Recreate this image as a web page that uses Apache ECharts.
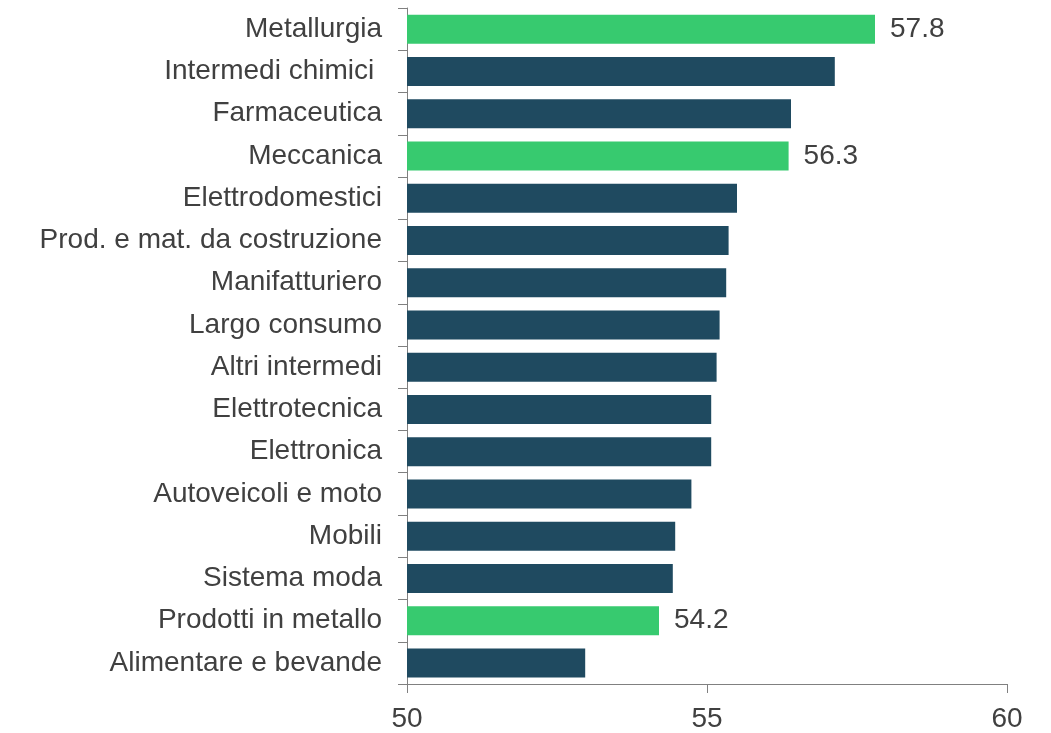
<!DOCTYPE html>
<html>
<head>
<meta charset="utf-8">
<script src="https://cdn.jsdelivr.net/npm/echarts@6/dist/echarts.min.js"></script>
<style>
  html, body { margin: 0; padding: 0; background: #fff; }
  #chart { width: 1051px; height: 733px; }
</style>
</head>
<body>
<div id="chart"></div>
<script>
// settori, dall'alto verso il basso
var categories = [
  'Metallurgia', 'Intermedi chimici ', 'Farmaceutica', 'Meccanica',
  'Elettrodomestici', 'Prod. e mat. da costruzione', 'Manifatturiero',
  'Largo consumo', 'Altri intermedi', 'Elettrotecnica', 'Elettronica',
  'Autoveicoli e moto', 'Mobili', 'Sistema moda', 'Prodotti in metallo',
  'Alimentare e bevande'
];
var values = [
  57.8, 57.13, 56.4, 56.36,
  55.5, 55.36, 55.32,
  55.21, 55.16, 55.07, 55.07,
  54.74, 54.47, 54.43, 54.2,
  52.97
];
// etichette mostrate solo sui settori evidenziati
var valueLabels = [
  '57.8', '', '', '56.3',
  '', '', '',
  '', '', '', '',
  '', '', '', '54.2',
  ''
];
var xTicks = [50, 55, 60];

var GREEN = '#37CA6F';
var DARK = '#1F4A60';
var TEXT = '#404040';
var AXIS = '#808080';
var FONT = '"Liberation Sans", Arial, sans-serif';

var barData = values.map(function (v, i) {
  var hl = valueLabels[i] !== '';
  return {
    value: v,
    itemStyle: { color: hl ? GREEN : DARK },
    label: { show: hl, formatter: valueLabels[i] }
  };
});

var chart = echarts.init(document.getElementById('chart'));
chart.setOption({
  animation: false,
  textStyle: { fontFamily: FONT },
  grid: { left: 407, right: 44, top: 8, bottom: 47, containLabel: false },
  xAxis: {
    type: 'value',
    min: xTicks[0],
    max: xTicks[xTicks.length - 1],
    interval: 5,
    splitLine: { show: false },
    axisLine: { show: true, lineStyle: { color: AXIS, width: 1 } },
    axisTick: { show: true, length: 9, lineStyle: { color: AXIS } },
    axisLabel: { color: TEXT, fontSize: 28, fontFamily: FONT, margin: 21 }
  },
  yAxis: {
    type: 'category',
    data: categories,
    inverse: true,
    axisLine: { show: true, lineStyle: { color: AXIS, width: 1 } },
    axisTick: { show: true, length: 9, lineStyle: { color: AXIS } },
    axisLabel: {
      color: TEXT, fontSize: 28, fontFamily: FONT, margin: 25,
      padding: [4, 0, 0, 0]
    }
  },
  series: [{
    type: 'bar',
    data: barData,
    barWidth: 29,
    label: {
      position: 'right',
      distance: 15,
      color: TEXT,
      fontSize: 28,
      fontFamily: FONT,
      padding: [4, 0, 0, 0]
    }
  }]
});
</script>
</body>
</html>
